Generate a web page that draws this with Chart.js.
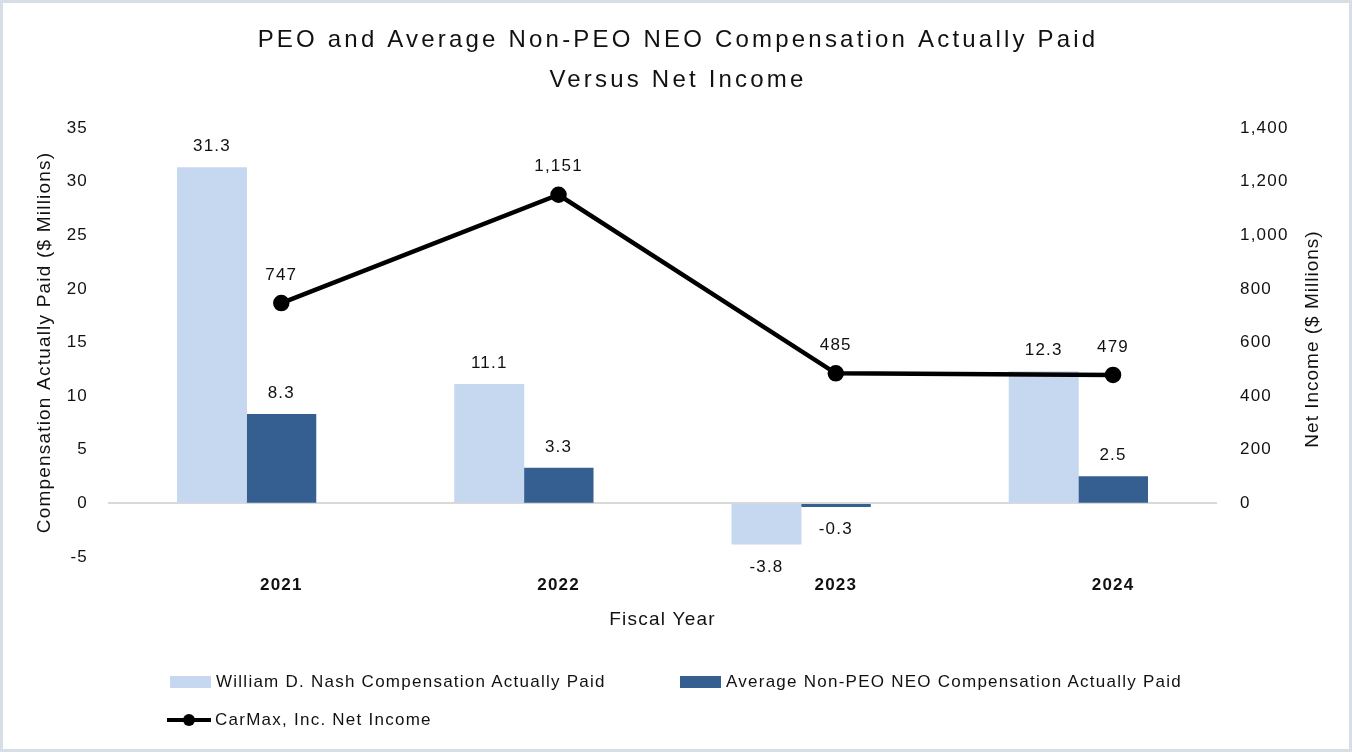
<!DOCTYPE html>
<html lang="en">
<head>
  <meta charset="UTF-8">
  <title>PEO and Average Non-PEO NEO Compensation Actually Paid Versus Net Income</title>
  <script src="https://cdn.jsdelivr.net/npm/chart.js"></script>
  <style>
    html, body { margin: 0; padding: 0; background: #fff; }
    body { font-family: "Liberation Sans", Arial, sans-serif; }
    #wrap { position: relative; width: 1352px; height: 752px; }
    #frame { position: absolute; left: 0; top: 0; width: 1352px; height: 752px; box-sizing: border-box; border: 3px solid #d7dee6; pointer-events: none; }
    #legend { position: absolute; left: 0; top: 0; width: 1352px; height: 752px; pointer-events: none; }
    .item { position: absolute; font-size: 17px; letter-spacing: 1.25px; color: #111; display: flex; align-items: center; white-space: nowrap; }
    .box { width: 41px; height: 12px; margin-right: 5px; }
    .ln { position: relative; width: 44px; height: 4px; background: #000; margin-right: 4px; }
    .ln span { position: absolute; left: 16px; top: -4px; width: 12px; height: 12px; border-radius: 50%; background: #000; }
  </style>
</head>
<body>
  <div id="wrap">
    <canvas id="chart" width="1352" height="752"></canvas>
    <div id="legend"></div>
    <div id="frame"></div>
  </div>

  <script>
    const years = ['2021', '2022', '2023', '2024'];
    const nashPaid = [31.3, 11.1, -3.8, 12.3];
    const neoPaid = [8.3, 3.3, -0.3, 2.5];
    const netIncome = [747, 1151, 485, 479];
    const titleLines = ['PEO and Average Non-PEO NEO Compensation Actually Paid', 'Versus Net Income'];

    const lightBlue = '#c6d8f0';
    const darkBlue = '#355f91';
    const font = '"Liberation Sans", Arial, sans-serif';
    const spacing = '1.2px';

    // the original text is loosely tracked
    const tracking = {
      id: 'tracking',
      beforeUpdate(chart) { chart.ctx.letterSpacing = spacing; },
      beforeDraw(chart) { chart.ctx.letterSpacing = spacing; }
    };

    // value labels above / below the marks
    const valueLabels = {
      id: 'valueLabels',
      afterDatasetsDraw(chart) {
        const ctx = chart.ctx;
        ctx.save();
        ctx.font = '17px ' + font;
        ctx.letterSpacing = spacing;
        ctx.fillStyle = '#111';
        ctx.textAlign = 'center';
        ctx.textBaseline = 'middle';
        chart.data.datasets.forEach((ds, i) => {
          const meta = chart.getDatasetMeta(i);
          meta.data.forEach((el, j) => {
            const v = ds.data[j];
            let y;
            if (ds.type === 'line') y = el.y - 28;
            else y = v >= 0 ? el.y - 21 : el.y + 23;
            ctx.fillText(v.toLocaleString('en-US'), el.x, y);
          });
        });
        ctx.restore();
      }
    };

    // chart title and right axis title (reads bottom to top)
    const extraText = {
      id: 'extraText',
      afterDraw(chart) {
        const ctx = chart.ctx;
        ctx.save();
        ctx.fillStyle = '#111';
        ctx.textAlign = 'center';
        ctx.textBaseline = 'middle';
        ctx.font = '24px ' + font;
        ctx.letterSpacing = '3.2px';
        titleLines.forEach((t, i) => ctx.fillText(t, 678, 40 + i * 40));
        ctx.translate(1313, 339);
        ctx.rotate(-Math.PI / 2);
        ctx.font = '19px ' + font;
        ctx.letterSpacing = '1px';
        ctx.fillText('Net Income ($ Millions)', 0, 0);
        ctx.restore();
      }
    };

    const chart = new Chart(document.getElementById('chart'), {
      data: {
        labels: years,
        datasets: [
          {
            type: 'line',
            label: 'CarMax, Inc. Net Income',
            data: netIncome,
            xAxisID: 'x2',
            yAxisID: 'y1',
            borderColor: '#000',
            backgroundColor: '#000',
            borderWidth: 4.5,
            pointRadius: 6,
            pointBackgroundColor: '#000',
            tension: 0,
            order: 0
          },
          {
            type: 'bar',
            label: 'William D. Nash Compensation Actually Paid',
            data: nashPaid,
            xAxisID: 'x',
            yAxisID: 'y',
            backgroundColor: lightBlue,
            barThickness: 'flex',
            categoryPercentage: 1.0,
            barPercentage: 1.0,
            order: 1
          },
          {
            type: 'bar',
            label: 'Average Non-PEO NEO Compensation Actually Paid',
            data: neoPaid,
            xAxisID: 'x',
            yAxisID: 'y',
            backgroundColor: darkBlue,
            barThickness: 'flex',
            categoryPercentage: 1.0,
            barPercentage: 1.0,
            order: 1
          }
        ]
      },
      options: {
        responsive: false,
        animation: false,
        layout: { padding: { left: 0, right: 0, top: 128, bottom: 117 } },
        plugins: {
          legend: { display: false },
          tooltip: { enabled: false },
          title: { display: false }
        },
        scales: {
          x: {
            type: 'category',
            position: 'bottom',
            offset: true,
            grid: { display: false, drawTicks: false, offset: true },
            border: { display: false },
            ticks: { display: false },
            afterFit(s) { s.height = 0; }
          },
          // year labels and the line sit a little right of the bar pairs, as in the original
          x2: {
            type: 'linear',
            position: 'bottom',
            min: 2020.375,
            max: 2024.375,
            grid: { display: false, drawTicks: false },
            border: { display: false },
            afterBuildTicks(s) { s.ticks = years.map(y => ({ value: Number(y) })); },
            ticks: {
              color: '#111',
              padding: 18,
              font: { family: font, size: 17, weight: 'bold' },
              callback: v => String(v)
            },
            title: { display: true, text: 'Fiscal Year', color: '#111', font: { family: font, size: 19 }, padding: { top: 4, bottom: 4 } },
            afterFit(s) { s.height = 78; }
          },
          y: {
            position: 'left',
            min: -5,
            max: 35,
            ticks: { stepSize: 5, color: '#111', padding: 20, font: { family: font, size: 17 } },
            grid: {
              drawTicks: false,
              lineWidth: 2,
              color: c => c.tick && c.tick.value === 0 ? '#d9d9d9' : 'rgba(0,0,0,0)'
            },
            border: { display: false },
            title: { display: true, text: 'Compensation Actually Paid ($ Millions)', color: '#111', font: { family: font, size: 19 }, padding: { top: 33 } },
            afterFit(s) { s.width = 108; }
          },
          y1: {
            position: 'right',
            min: -200,
            max: 1400,
            ticks: {
              stepSize: 200,
              color: '#111',
              padding: 23,
              font: { family: font, size: 17 },
              callback: v => v < 0 ? '' : v.toLocaleString('en-US')
            },
            grid: { display: false, drawTicks: false },
            border: { display: false },
            afterFit(s) { s.width = 135; }
          }
        }
      },
      plugins: [tracking, valueLabels, extraText]
    });

    // legend laid out like the original: two bar keys, then the line key
    const legend = document.getElementById('legend');
    const spots = [[170, 682], [680, 682], [167, 720]];
    [1, 2, 0].forEach((di, k) => {
      const ds = chart.data.datasets[di];
      const item = document.createElement('div');
      item.className = 'item';
      item.style.left = spots[k][0] + 'px';
      item.style.top = (spots[k][1] - 10) + 'px';
      const key = document.createElement('div');
      if (ds.type === 'line') {
        key.className = 'ln';
        key.innerHTML = '<span></span>';
      } else {
        key.className = 'box';
        key.style.background = ds.backgroundColor;
      }
      item.appendChild(key);
      const txt = document.createElement('span');
      txt.textContent = ds.label;
      item.appendChild(txt);
      legend.appendChild(item);
    });
  </script>
</body>
</html>
